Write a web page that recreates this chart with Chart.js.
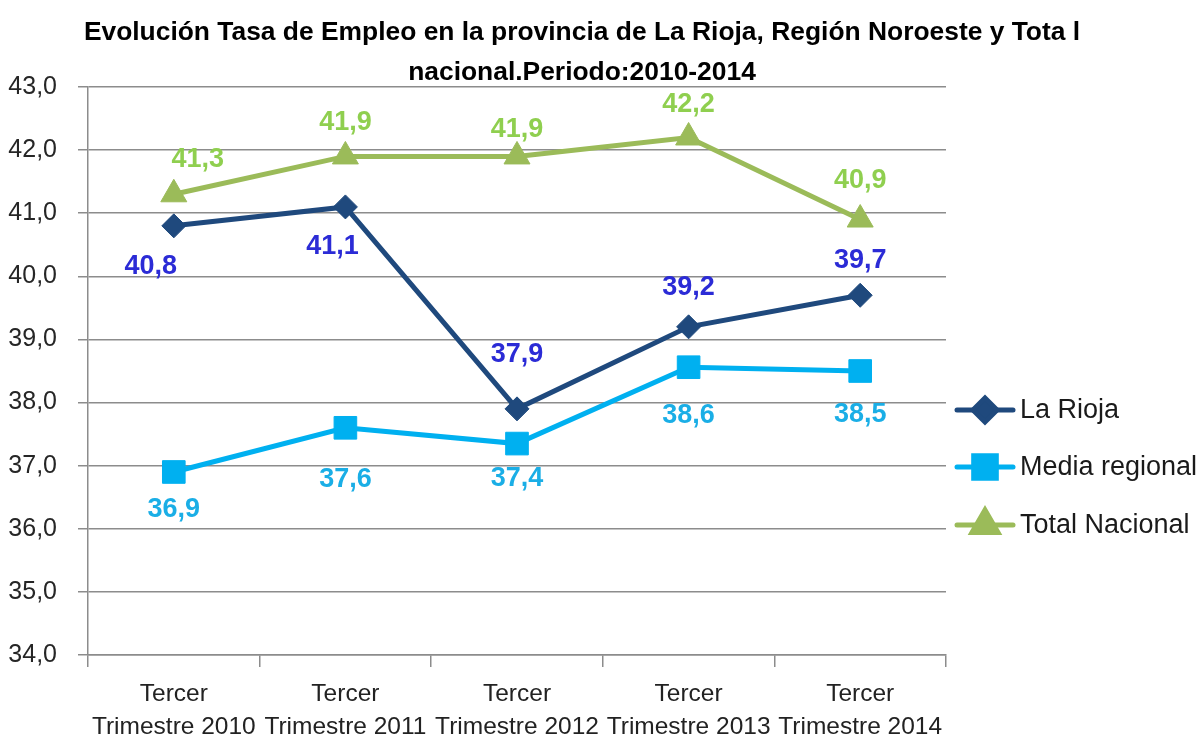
<!DOCTYPE html>
<html><head><meta charset="utf-8">
<script src="https://cdn.jsdelivr.net/npm/chart.js@4/dist/chart.umd.min.js"></script>
<style>html,body{margin:0;padding:0;background:#fff;}canvas{display:block;}</style>
</head><body>
<canvas id="c" width="1203" height="738"></canvas>
<script>
const categories = [["Tercer","Trimestre 2010"],["Tercer","Trimestre 2011"],["Tercer","Trimestre 2012"],["Tercer","Trimestre 2013"],["Tercer","Trimestre 2014"]];
const laRioja = [40.8, 41.1, 37.9, 39.2, 39.7];
const mediaRegional = [36.9, 37.6, 37.35, 38.56, 38.5];
const totalNacional = [41.3, 41.9, 41.9, 42.2, 40.9];
const titleLines = ["Evolución Tasa de Empleo en la provincia de La Rioja, Región Noroeste y Tota l", "nacional.Periodo:2010-2014"];
const yMin = 34, yMax = 43, yStep = 1;

const FONT = "'Liberation Sans', Arial, sans-serif";
// label offsets (pixels relative to point) per dataset
const labelOffsets = [
  [[-23,41],[-13,40],[0,-54],[0,-39],[0,-35]],
  [[0,38],[0,52],[0,35],[0,48],[0,44]],
  [[24,-35],[0,-34],[0,-27],[0,-33],[0,-39]]
];
const labelColors = ['#2B2BD6','#1AAEE6','#8FCF4F'];
const fmt = v => v.toFixed(1).replace('.', ',');

const decor = {
  id: 'decor',
  afterDatasetsDraw(chart) {
    const ctx = chart.ctx;
    ctx.save();
    chart.data.datasets.forEach((ds, di) => {
      const meta = chart.getDatasetMeta(di);
      ctx.font = "bold 27px " + FONT;
      ctx.fillStyle = labelColors[di];
      ctx.textAlign = 'center';
      ctx.textBaseline = 'middle';
      meta.data.forEach((pt, i) => {
        const o = labelOffsets[di][i];
        ctx.fillText(fmt(ds.data[i]), pt.x + o[0], pt.y + o[1]);
      });
    });
    // title
    ctx.fillStyle = '#000';
    ctx.font = "bold 26.4px " + FONT;
    ctx.fillText(titleLines[0], 582, 33);
    ctx.fillText(titleLines[1], 582, 73);
    // legend
    const ys = [410, 467, 525];
    chart.data.datasets.forEach((ds, di) => {
      const y = ys[di];
      ctx.strokeStyle = ds.borderColor;
      ctx.lineWidth = 5;
      ctx.lineCap = 'round';
      ctx.beginPath(); ctx.moveTo(957, y); ctx.lineTo(1013, y); ctx.stroke();
      ctx.fillStyle = ds.borderColor;
      ctx.strokeStyle = ds.borderColor;
      Chart.helpers.drawPoint(ctx, {pointStyle: ds.pointStyle, rotation: 0, borderWidth: 1, radius: ds.pointRadius}, 985, y);
      ctx.fillStyle = '#1a1a1a';
      ctx.font = "27px " + FONT;
      ctx.textAlign = 'left';
      ctx.fillText(ds.label, 1020, y + 1);
    });
    ctx.restore();
  }
};

new Chart(document.getElementById('c'), {
  type: 'line',
  data: {
    labels: categories,
    datasets: [
      {label: 'La Rioja', data: laRioja, borderColor: '#1F497D', backgroundColor: '#1F497D', borderWidth: 5, pointStyle: 'rectRot', pointRadius: 12, pointBorderWidth: 1},
      {label: 'Media regional', data: mediaRegional, borderColor: '#00B0F0', backgroundColor: '#00B0F0', borderWidth: 5, pointStyle: 'rect', pointRadius: 16, pointBorderWidth: 1},
      {label: 'Total Nacional', data: totalNacional, borderColor: '#9BBB59', backgroundColor: '#9BBB59', borderWidth: 5, pointStyle: 'triangle', pointRadius: 15, pointBorderWidth: 1}
    ]
  },
  options: {
    responsive: false,
    animation: false,
    layout: {padding: {top: 87, right: 257, left: 0, bottom: 0}},
    plugins: {legend: {display: false}, title: {display: false}, tooltip: {enabled: false}},
    scales: {
      y: {
        min: yMin, max: yMax,
        ticks: {stepSize: yStep, callback: v => fmt(v), color: '#262626', font: {family: FONT, size: 25}, padding: 21},
        grid: {color: '#8C8C8C', lineWidth: 1.5, tickLength: 10},
        border: {color: '#8C8C8C', width: 1.5},
        afterFit(s) { s.width = 88; }
      },
      x: {
        offset: true,
        ticks: {color: '#222', font: {family: FONT, size: 24.5, lineHeight: 1.34}, padding: 11, maxRotation: 0, autoSkip: false},
        grid: {offset: true, drawOnChartArea: false, color: '#8C8C8C', lineWidth: 1.5, tickLength: 12},
        border: {color: '#8C8C8C', width: 1.5},
        afterFit(s) { s.height = 83; }
      }
    }
  },
  plugins: [decor]
});
</script>
</body></html>
